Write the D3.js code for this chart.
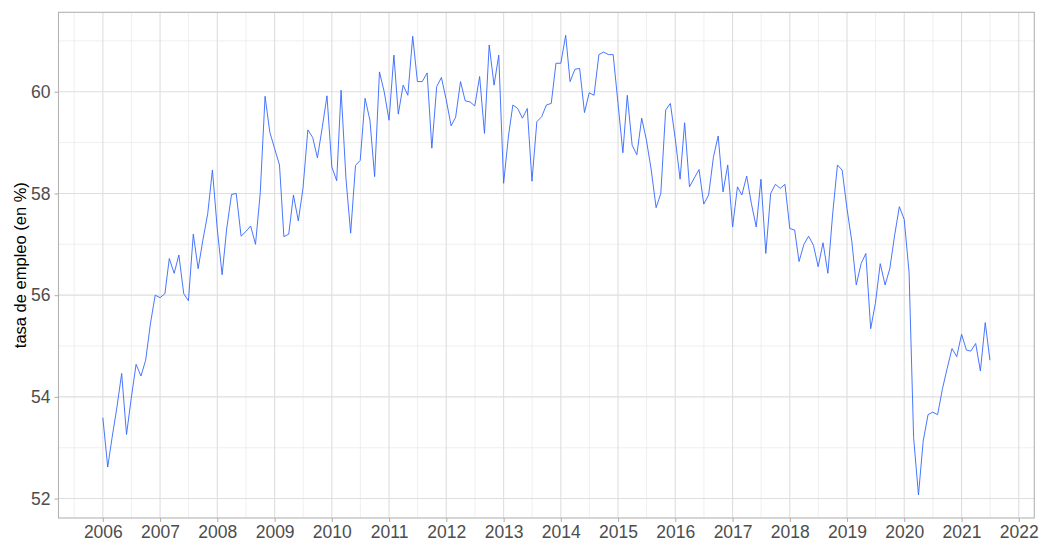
<!DOCTYPE html>
<html>
<head>
<meta charset="utf-8">
<script src="https://cdn.jsdelivr.net/npm/d3@7"></script>
<style>
  body { margin: 0; background: #fff; }
  svg { display: block; font-family: "Liberation Sans", Arial, sans-serif; }
</style>
</head>
<body>
<svg id="chart" width="1039" height="542"></svg>
<script>
// monthly series, first value = January 2006
const startYear = 2006;
const tasaEmpleo = [
  53.59, 52.62, 53.2, 53.8, 54.46, 53.26, 53.97, 54.64, 54.41, 54.72, 55.45, 56.0,
  55.95, 56.03, 56.72, 56.43, 56.79, 56.03, 55.89, 57.2, 56.52, 57.08, 57.6, 58.46,
  57.3, 56.4, 57.3, 57.98, 58.0, 57.16, 57.25, 57.36, 57.0, 58.0, 59.91, 59.21,
  58.88, 58.56, 57.15, 57.2, 57.97, 57.46, 58.1, 59.25, 59.1, 58.7, 59.3, 59.92,
  58.52, 58.25, 60.03, 58.3, 57.22, 58.55, 58.65, 59.87, 59.44, 58.33, 60.39, 60.0,
  59.44, 60.72, 59.56, 60.13, 59.93, 61.09, 60.2, 60.2, 60.37, 58.89, 60.1, 60.28,
  59.84, 59.33, 59.5, 60.2, 59.82, 59.8, 59.72, 60.3, 59.18, 60.92, 60.13, 60.72,
  58.2, 59.13, 59.74, 59.67, 59.48, 59.67, 58.24, 59.41, 59.51, 59.74, 59.77, 60.56,
  60.56, 61.11, 60.2, 60.44, 60.46, 59.59, 59.98, 59.93, 60.73, 60.78, 60.73, 60.73,
  59.77, 58.8, 59.93, 58.95, 58.76, 59.48, 59.05, 58.46, 57.72, 58.0, 59.64, 59.77,
  59.08, 58.28, 59.39, 58.13, 58.3, 58.47, 57.79, 57.97, 58.72, 59.13, 58.03, 58.56,
  57.34, 58.13, 57.97, 58.34, 57.8, 57.34, 58.28, 56.82, 58.0, 58.18, 58.1, 58.18,
  57.31, 57.28, 56.66, 57.0, 57.16, 56.98, 56.56, 57.03, 56.43, 57.58, 58.56, 58.46,
  57.7, 57.05, 56.2, 56.62, 56.82, 55.34, 55.84, 56.62, 56.2, 56.52, 57.18, 57.74,
  57.49, 56.45, 53.2, 52.07, 53.13, 53.65, 53.7, 53.65, 54.16, 54.56, 54.95, 54.79,
  55.23, 54.92, 54.9, 55.05, 54.51, 55.46, 54.72
];
const xTickYears = d3.range(2006, 2023);
const yTicks = [52, 54, 56, 58, 60];
const yMinorTicks = [53, 55, 57, 59, 61];
const yTitle = "tasa de empleo (en %)";

const data = tasaEmpleo.map((v, i) => ({ date: new Date(startYear, i, 1), value: v }));

const svg = d3.select("#chart");
const panel = { left: 58.5, right: 1034.3, top: 12.3, bottom: 518 };

// ggplot style 5% expansion on both axes
function expand(extent, mult) {
  const pad = (extent[1] - extent[0]) * mult;
  return [extent[0] - pad, extent[1] + pad];
}

const xExt = d3.extent(data, d => +d.date);
const x = d3.scaleTime()
  .domain(expand(xExt, 0.05).map(t => new Date(t)))
  .range([panel.left, panel.right]);

const y = d3.scaleLinear()
  .domain(expand(d3.extent(data, d => d.value), 0.05))
  .range([panel.bottom, panel.top]);

const xMajor = xTickYears.map(yr => new Date(yr, 0, 1));
const xMinor = d3.range(2005, 2023).map(yr => new Date(yr, 6, 2))
  .filter(d => x(d) > panel.left && x(d) < panel.right);

const grid = svg.append("g");

grid.selectAll(".ymin").data(yMinorTicks.filter(v => y(v) > panel.top))
  .join("line")
  .attr("x1", panel.left).attr("x2", panel.right)
  .attr("y1", d => y(d)).attr("y2", d => y(d))
  .attr("stroke", "#EBEBEB").attr("stroke-width", 0.8);

grid.selectAll(".xmin").data(xMinor)
  .join("line")
  .attr("y1", panel.top).attr("y2", panel.bottom)
  .attr("x1", d => x(d)).attr("x2", d => x(d))
  .attr("stroke", "#EBEBEB").attr("stroke-width", 0.8);

grid.append("g").selectAll("line").data(yTicks)
  .join("line")
  .attr("x1", panel.left).attr("x2", panel.right)
  .attr("y1", d => y(d)).attr("y2", d => y(d))
  .attr("stroke", "#DEDEDE").attr("stroke-width", 1.1);

grid.append("g").selectAll("line").data(xMajor)
  .join("line")
  .attr("y1", panel.top).attr("y2", panel.bottom)
  .attr("x1", d => x(d)).attr("x2", d => x(d))
  .attr("stroke", "#DEDEDE").attr("stroke-width", 1.1);

// series
svg.append("path")
  .datum(data)
  .attr("fill", "none")
  .attr("stroke", "#3366FF")
  .attr("stroke-width", 0.9)
  .attr("stroke-linejoin", "round")
  .attr("d", d3.line().x(d => x(d.date)).y(d => y(d.value)));

// panel border
svg.append("rect")
  .attr("x", panel.left).attr("y", panel.top)
  .attr("width", panel.right - panel.left)
  .attr("height", panel.bottom - panel.top)
  .attr("fill", "none")
  .attr("stroke", "#B3B3B3")
  .attr("stroke-width", 1.1);

// axes
const xAxis = d3.axisBottom(x)
  .tickValues(xMajor)
  .tickFormat(d3.timeFormat("%Y"))
  .tickSize(4)
  .tickPadding(4);

const yAxis = d3.axisLeft(y)
  .tickValues(yTicks)
  .tickFormat(d3.format("d"))
  .tickSize(4)
  .tickPadding(4);

const gx = svg.append("g")
  .attr("transform", `translate(0,${panel.bottom})`)
  .call(xAxis);

const gy = svg.append("g")
  .attr("transform", `translate(${panel.left},0)`)
  .call(yAxis);

[gx, gy].forEach(g => {
  g.select(".domain").remove();
  g.selectAll(".tick line").attr("stroke", "#B3B3B3").attr("stroke-width", 1.1);
  g.selectAll(".tick text")
    .attr("fill", "#4D4D4D")
    .style("font-size", "17.5px");
});

gx.selectAll(".tick text").attr("dy", "0.71em");

svg.append("text")
  .attr("transform", `translate(26,${(panel.top + panel.bottom) / 2}) rotate(-90)`)
  .attr("text-anchor", "middle")
  .style("font-size", "16.5px")
  .attr("fill", "#000")
  .text(yTitle);
</script>
</body>
</html>
